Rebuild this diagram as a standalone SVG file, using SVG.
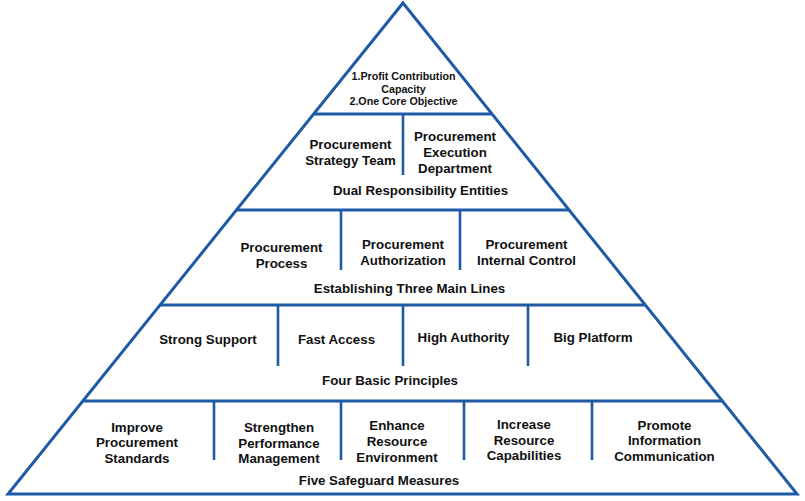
<svg xmlns="http://www.w3.org/2000/svg" width="805" height="501" viewBox="0 0 805 501">
<style>
.ln{stroke:#1f5aa6;stroke-width:3;fill:none;stroke-linejoin:miter}
.dv{stroke:#1f5aa6;stroke-width:2.6;fill:none}
text{font-family:"Liberation Sans",Arial,sans-serif;font-weight:bold;font-size:13.3px;fill:#111;text-anchor:middle}
.sm{font-size:10.7px}
</style>
<rect width="805" height="501" fill="#fff"/>
<g id="frame">
<polygon class="ln" points="403,3 797,494 8,494"/>
<line class="ln" x1="313.7" y1="114" x2="492.1" y2="114"/>
<line class="ln" x1="236.5" y1="210" x2="569.1" y2="210"/>
<line class="ln" x1="160.1" y1="305" x2="645.3" y2="305"/>
<line class="ln" x1="82.8" y1="401" x2="722.4" y2="401"/>
</g>
<g id="tier-apex">
<text class="sm" x="403.5" y="80">1.Profit Contribution</text>
<text class="sm" x="403.5" y="92.5">Capacity</text>
<text class="sm" x="403.5" y="105">2.One Core Objective</text>
</g>
<g id="tier-dual">
<line class="dv" x1="403" y1="114" x2="403" y2="175"/>
<text x="350.5" y="148.5">Procurement</text>
<text x="350.5" y="164.5">Strategy Team</text>
<text x="455" y="140.5">Procurement</text>
<text x="455" y="156.5">Execution</text>
<text x="455" y="172.5">Department</text>
<text x="420.5" y="195">Dual Responsibility Entities</text>
</g>
<g id="tier-lines">
<line class="dv" x1="341" y1="210" x2="341" y2="270"/>
<line class="dv" x1="460" y1="210" x2="460" y2="270"/>
<text x="281.5" y="252">Procurement</text>
<text x="281.5" y="267.5">Process</text>
<text x="403" y="249">Procurement</text>
<text x="403" y="264.5">Authorization</text>
<text x="526.5" y="249">Procurement</text>
<text x="526.5" y="264.5">Internal Control</text>
<text x="409.5" y="292.5">Establishing Three Main Lines</text>
</g>
<g id="tier-principles">
<line class="dv" x1="278" y1="305" x2="278" y2="366"/>
<line class="dv" x1="403" y1="305" x2="403" y2="366"/>
<line class="dv" x1="528" y1="305" x2="528" y2="366"/>
<text x="208" y="344">Strong Support</text>
<text x="336.5" y="344">Fast Access</text>
<text x="463.5" y="342">High Authority</text>
<text x="593" y="342">Big Platform</text>
<text x="390" y="385">Four Basic Principles</text>
</g>
<g id="tier-measures">
<line class="dv" x1="214" y1="401" x2="214" y2="460"/>
<line class="dv" x1="341" y1="401" x2="341" y2="460"/>
<line class="dv" x1="464" y1="401" x2="464" y2="460"/>
<line class="dv" x1="592" y1="401" x2="592" y2="460"/>
<text x="137" y="431.5">Improve</text>
<text x="137" y="447">Procurement</text>
<text x="137" y="463">Standards</text>
<text x="279" y="432">Strengthen</text>
<text x="279" y="448">Performance</text>
<text x="279" y="463">Management</text>
<text x="397" y="430">Enhance</text>
<text x="397" y="446">Resource</text>
<text x="397" y="462">Environment</text>
<text x="524" y="428.5">Increase</text>
<text x="524" y="444.5">Resource</text>
<text x="524" y="460">Capabilities</text>
<text x="664.5" y="429.5">Promote</text>
<text x="664.5" y="445">Information</text>
<text x="664.5" y="461">Communication</text>
<text x="379" y="484.5">Five Safeguard Measures</text>
</g>
</svg>
